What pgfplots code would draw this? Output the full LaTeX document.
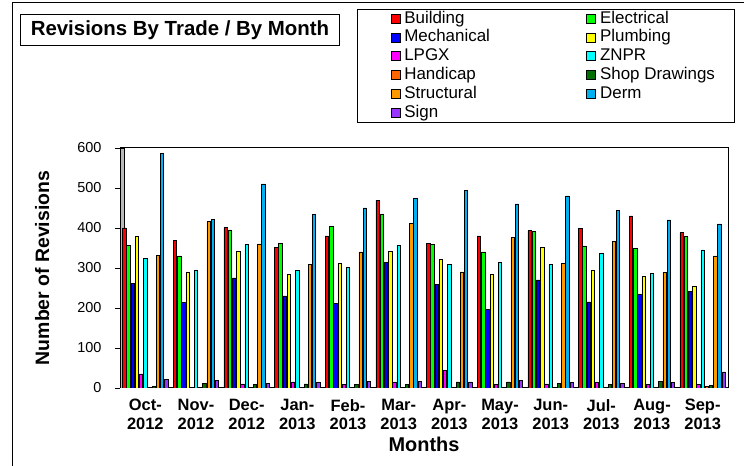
\documentclass[border=0pt]{standalone}
\usepackage{pgfplots}
\pgfplotsset{compat=1.18}
\usepackage{pgfplotstable}
\usepackage{fontspec}
\setmainfont{Liberation Sans}
\definecolor{cBuilding}{HTML}{FF0000}
\definecolor{cElectrical}{HTML}{00FF00}
\definecolor{cMechanical}{HTML}{0000FF}
\definecolor{cPlumbing}{HTML}{FFFF00}
\definecolor{cLPGX}{HTML}{FF00FF}
\definecolor{cZNPR}{HTML}{00FFFF}
\definecolor{cHandicap}{HTML}{FF6600}
\definecolor{cShop}{HTML}{007000}
\definecolor{cStructural}{HTML}{FF9900}
\definecolor{cDerm}{HTML}{00B0F0}
\definecolor{cSign}{HTML}{9933FF}
\pgfplotstableread{
x Building Electrical Mechanical Plumbing LPGX ZNPR Handicap Shop Structural Derm Sign
0  400 357 262 378 35 323 1 4  331 587 22
1  368 330 213 290 2  293 1 11 416 421 19
2  401 395 275 342 10 359 1 8  360 510 11
3  352 362 230 283 15 293 1 10 308 433 13
4  380 404 211 311 8  302 1 8  340 450 17
5  469 434 314 341 13 357 1 8  412 473 17
6  362 358 258 321 44 308 1 15 290 494 15
7  380 340 196 283 8  314 1 15 376 460 19
8  393 391 270 352 10 308 1 11 311 480 13
9  399 355 215 294 14 336 1 8  367 444 12
10 430 349 234 279 8  287 1 17 289 420 13
11 388 378 241 254 8  345 4 6  330 410 40
}\data
\newcommand{\La}[1]{\makebox[145bp][l]{#1}}
\newcommand{\Lb}[1]{\makebox[130bp][l]{#1}}
\begin{document}
\begin{tikzpicture}[x=1bp,y=1bp]
\path[use as bounding box] (0,0) rectangle (744,466);
\draw[line width=1bp] (12,0) -- (12,463) -- (744,463);
\node[draw, line width=1bp, minimum width=318bp, minimum height=31bp, inner sep=0pt,
  font=\fontsize{20.5}{22}\selectfont\bfseries] at (180,436) {Revisions By Trade / By Month};
\begin{axis}[
  at={(120bp,78bp)}, anchor=south west,
  scale only axis, width=608bp, height=240bp,
  ybar=0.8bp, bar width=3.4bp,
  xmin=-0.5, xmax=11.5, ymin=0, ymax=600,
  axis line style={line width=1bp, black},
  xtick={0,...,11},
  xticklabels={{Oct-\\2012},{Nov-\\2012},{Dec-\\2012},{Jan-\\2013},{Feb-\\2013},{Mar-\\2013},{Apr-\\2013},{May-\\2013},{Jun-\\2013},{Jul-\\2013},{Aug-\\2013},{Sep-\\2013}},
  xticklabel style={align=center, font=\fontsize{16.5}{18.5}\selectfont\bfseries, yshift=-3bp},
  x tick style={draw=none},
  ytick={0,100,...,600},
  ytick pos=left,
  tick align=outside, major tick length=5bp,
  y tick style={black, line width=0.8bp},
  yticklabel style={font=\fontsize{14.5}{16}\selectfont, xshift=-10bp},
  /pgf/number format/assume math mode=true,
  xlabel={Months},
  xlabel style={font=\fontsize{20}{22}\selectfont\bfseries, at={(axis description cs:0.5,-0.233)}, anchor=center},
  ylabel={Number of Revisions},
  ylabel style={font=\fontsize{19.5}{22}\selectfont\bfseries, at={(axis description cs:-0.128,0.5)}, anchor=center, rotate=0},
  legend columns=2,
  legend style={at={(rel axis cs:0.3898,1.579)}, anchor=north west, draw=black, line width=1bp,
    font=\fontsize{17}{18.5}\selectfont, inner xsep=0pt, inner ysep=1bp,
    nodes={inner ysep=0pt, inner xsep=4bp, text height=12.5bp, text depth=4bp},
    cells={anchor=west}, column sep=0pt, row sep=2.3bp},
  legend image code/.code={\path (0bp,0bp) (0bp,0bp); \draw[#1,draw=black,line width=0.8bp] (33bp,-4.5bp) rectangle (42bp,4.5bp);},
  every axis plot/.append style={draw=black, line width=0.8bp},
]
\fill[gray!55, draw=black, line width=0.6bp] (axis cs:-0.5,0) rectangle ([xshift=4.5bp]axis cs:-0.5,600);
\addplot[fill=cBuilding] table[x=x,y=Building] {\data};
\addlegendentry{\La{Building}}
\addplot[fill=cElectrical] table[x=x,y=Electrical] {\data};
\addlegendentry{\Lb{Electrical}}
\addplot[fill=cMechanical] table[x=x,y=Mechanical] {\data};
\addlegendentry{\La{Mechanical}}
\addplot[fill=cPlumbing] table[x=x,y=Plumbing] {\data};
\addlegendentry{\Lb{Plumbing}}
\addplot[fill=cLPGX] table[x=x,y=LPGX] {\data};
\addlegendentry{\La{LPGX}}
\addplot[fill=cZNPR] table[x=x,y=ZNPR] {\data};
\addlegendentry{\Lb{ZNPR}}
\addplot[fill=cHandicap] table[x=x,y=Handicap] {\data};
\addlegendentry{\La{Handicap}}
\addplot[fill=cShop] table[x=x,y=Shop] {\data};
\addlegendentry{\Lb{Shop Drawings}}
\addplot[fill=cStructural] table[x=x,y=Structural] {\data};
\addlegendentry{\La{Structural}}
\addplot[fill=cDerm] table[x=x,y=Derm] {\data};
\addlegendentry{\Lb{Derm}}
\addplot[fill=cSign] table[x=x,y=Sign] {\data};
\addlegendentry{\La{Sign}}
\end{axis}
\end{tikzpicture}
\end{document}
